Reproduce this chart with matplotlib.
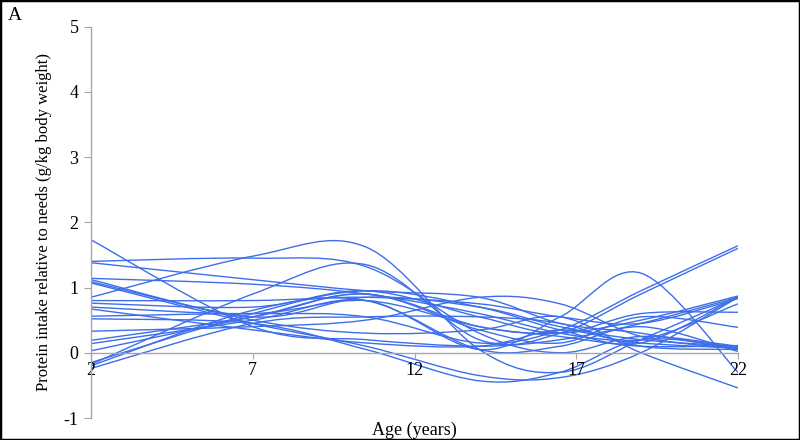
import numpy as np
import matplotlib
matplotlib.use("Agg")
import matplotlib.pyplot as plt
from matplotlib.path import Path
from matplotlib.patches import PathPatch, Rectangle

ages = [2, 7, 10.5, 14, 16.5, 19, 22]
s01 = [0.85, 1.48, 1.62, 0.05, -0.30, 0.20, 0.85]
s02 = [1.40, 1.45, 1.32, 0.30, 0.00, 0.25, 0.10]
s03 = [1.38, 1.12, 0.95, 0.85, 0.45, 0.30, 0.05]
s04 = [1.73, 0.40, 0.20, 0.10, 0.20, 0.45, 0.85]
s05 = [1.14, 1.05, 0.90, 0.60, 0.30, 0.15, 0.07]
s06 = [1.12, 0.55, 0.85, 0.70, 0.40, 0.20, 0.10]
s07 = [1.09, 0.50, 0.30, 0.35, 0.55, 0.00, -0.54]
s08 = [1.07, 0.45, 0.10, -0.35, -0.38, 0.00, 0.85]
s09 = [0.80, 0.80, 0.85, 0.75, 0.55, 0.45, 0.83]
s10 = [0.76, 0.70, 0.95, 0.55, 0.30, 0.60, 0.62]
s11 = [0.70, 0.60, 0.80, 0.40, 0.25, 0.10, 0.11]
s12 = [0.67, 0.35, 0.15, 0.10, 0.35, 0.20, 0.75]
s13 = [0.56, 0.60, 0.55, 0.15, 0.35, 0.95, 1.64]
s14 = [0.52, 0.45, 0.05, -0.43, -0.30, 0.20, 0.08]
s15 = [0.33, 0.40, 0.50, 0.85, 0.75, 0.25, 0.06]
s16 = [0.19, 0.55, 0.90, 0.35, 0.15, 0.55, 0.39]
s17 = [0.14, 0.50, 0.80, 0.05, 0.55, 1.22, -0.30]
s18 = [0.03, 0.55, 0.90, 0.40, 0.30, 0.50, 0.87]
s19 = [-0.15, 0.60, 0.95, 0.70, 0.35, 0.15, 0.86]
s20 = [-0.18, 0.90, 1.35, 0.20, 0.30, 0.90, 1.60]
s21 = [-0.20, 0.65, 0.80, 0.05, 0.10, 0.40, 0.02]
s22 = [-0.24, 0.45, 0.55, 0.55, 0.45, 0.10, 0.05]
series = [s01, s02, s03, s04, s05, s06, s07, s08, s09, s10, s11,
          s12, s13, s14, s15, s16, s17, s18, s19, s20, s21, s22]

xticks = [2, 7, 12, 17, 22]
yticks = [-1, 0, 1, 2, 3, 4, 5]
xlabel = "Age (years)"
ylabel = "Protein intake relative to needs (g/kg body weight)"
panel = "A"

# ---- style ----
plt.rcParams['font.family'] = ['Liberation Serif', 'DejaVu Serif']
LINE = '#3D6EEA'
GRAY = '#A6A6A6'


def smooth_path(xs, ys):
    """Excel-like smoothed line: Catmull-Rom segments as cubic Beziers."""
    pts = np.column_stack([xs, ys]).astype(float)
    n = len(pts)
    verts = [pts[0]]
    codes = [Path.MOVETO]
    for i in range(n - 1):
        p0 = pts[i - 1] if i > 0 else pts[i]
        p1 = pts[i]
        p2 = pts[i + 1]
        p3 = pts[i + 2] if i + 2 < n else pts[i + 1]
        c1 = p1 + (p2 - p0) / 6.0
        c2 = p2 - (p3 - p1) / 6.0
        verts += [c1, c2, p2]
        codes += [Path.CURVE4] * 3
    return Path(verts, codes)


fig = plt.figure(figsize=(8, 4.4), dpi=100)
ax = fig.add_axes([91 / 800, 22 / 440, (738 - 91) / 800, (418 - 26.5) / 440])

for s in series:
    ax.add_patch(PathPatch(smooth_path(ages, s), fill=False, edgecolor=LINE,
                           linewidth=1.0, transform=ax.transData))

ax.set_xlim(2, 22)
ax.set_ylim(-1, 5)
ax.set_xticks(xticks)
ax.set_yticks(yticks)
ax.set_xticklabels([str(t) for t in xticks])
ax.set_yticklabels([str(t) for t in yticks])

for side in ['top', 'right']:
    ax.spines[side].set_visible(False)
ax.spines['bottom'].set_position(('data', 0))
ax.spines['bottom'].set_color(GRAY)
ax.spines['left'].set_color(GRAY)
ax.spines['bottom'].set_linewidth(1.0)
ax.spines['left'].set_linewidth(1.0)
ax.tick_params(axis='y', direction='out', length=5, color=GRAY, pad=4,
               labelsize=13)
ax.tick_params(axis='x', direction='out', length=4, color=GRAY, pad=3,
               labelsize=13)
ax.set_ylabel(ylabel, fontsize=12, labelpad=8)

fig.text(414 / 800, 1 - 430 / 440, xlabel, ha='center', va='center', fontsize=13)
fig.text(8 / 800, 1 - 15 / 440, panel, ha='left', va='center', fontsize=14)

fig.patches.append(Rectangle((0, 0), 1, 1, transform=fig.transFigure,
                             fill=False, edgecolor='black', linewidth=2.5))

fig.savefig("out.png", dpi=100)
